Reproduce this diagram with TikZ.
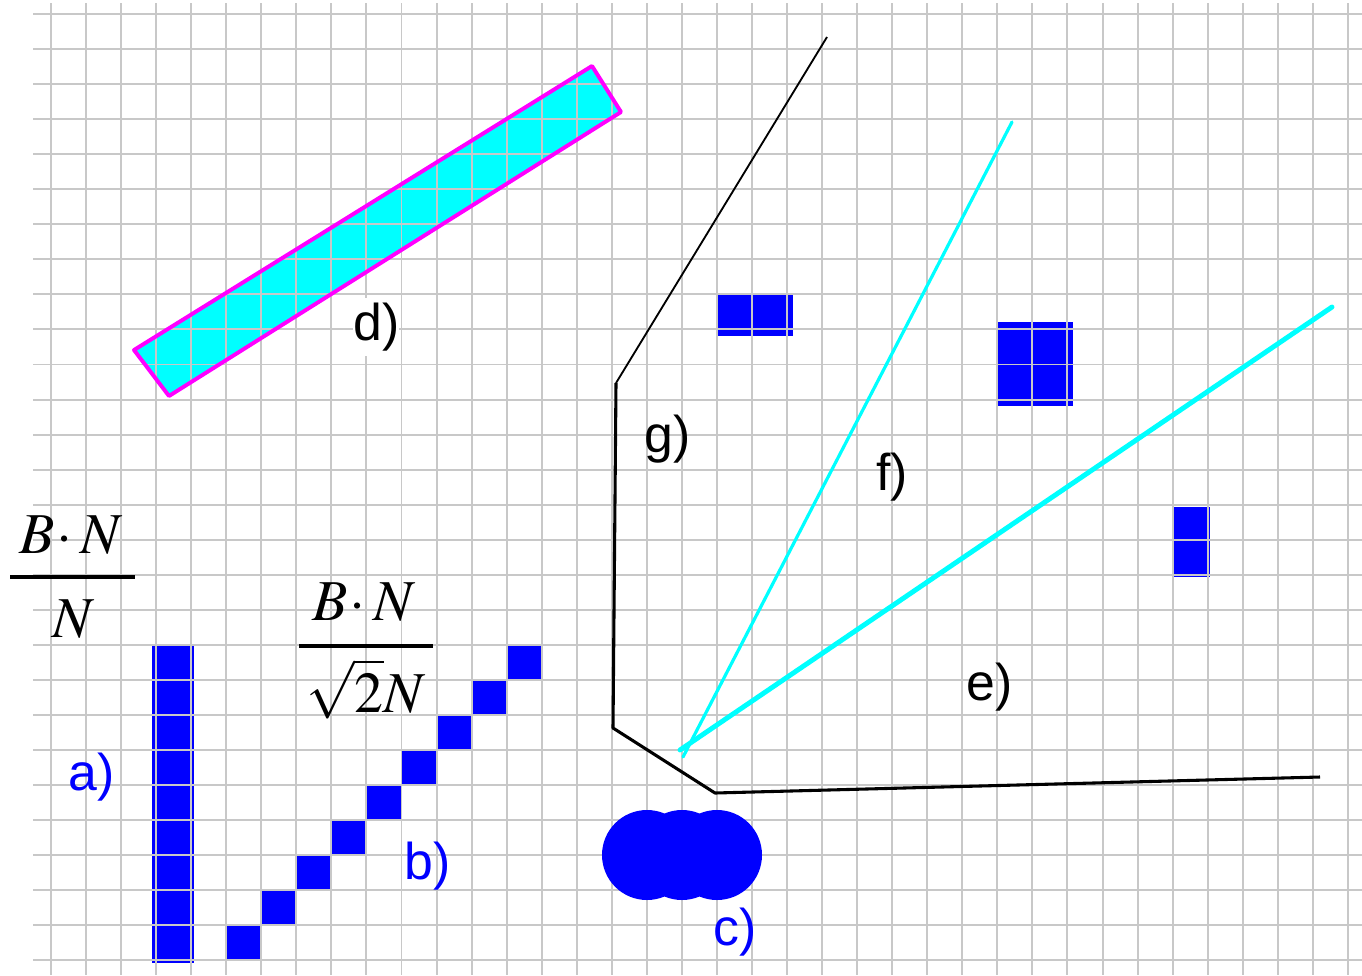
\documentclass[tikz,border=0pt]{standalone}
\usepackage{mathptmx}
\usepackage{fontspec}
\newfontfamily\lblfont{Liberation Sans}

\definecolor{gridgray}{RGB}{200,200,200}
\definecolor{pureblue}{RGB}{0,0,255}
\definecolor{aqua}{RGB}{0,255,255}
\definecolor{pink}{RGB}{255,0,255}

\begin{document}
\begin{tikzpicture}[
  x=0.02853cm, y=-0.02853cm,
  cell/.style  ={fill=pureblue},
  gridln/.style={draw=gridgray, line width=1.6pt},
  ray/.style   ={draw=aqua, line cap=round},
  wall/.style  ={draw=black, line join=round},
  lbl/.style   ={anchor=base west, inner sep=0pt, font=\lblfont\fontsize{42}{50}\selectfont},
  frac/.style  ={anchor=base, inner sep=0pt, font=\fontsize{47}{56}\selectfont},
  bar/.style   ={line width=2.6pt},
]
\useasboundingbox (0,0) rectangle (1362,975);

%% ---------------- filled shapes under the grid ----------------
\fill[cell] (152,645) rectangle (194,963);
\foreach \k in {0,...,8}{
  \fill[cell] (226.25+35.05*\k,925.3-35.05*\k) rectangle (261.3+35.05*\k,960.35-35.05*\k);
}
\fill[cell] (717,294) rectangle (793,336);
\fill[cell] (998,322) rectangle (1073,406);
\fill[cell] (1173,507) rectangle (1210,577);

\coordinate (dA) at (134,350);
\coordinate (dB) at (169,396);
\coordinate (dC) at (621,112);
\coordinate (dD) at (592,66);
\fill[aqua] (dA) -- (dB) -- (dC) -- (dD) -- cycle;

%% ---------------- grid ----------------
\foreach \i in {0,...,37}{\draw[gridln] (51+35.05*\i,3) -- (51+35.05*\i,975);}
\foreach \j in {0,...,27}{\draw[gridln] (33,14+35.05*\j) -- (1362,14+35.05*\j);}

%% ---------------- outlines and lines ----------------
\draw[pink, line width=3.2pt, line join=round] (dA) -- (dB) -- (dC) -- (dD) -- cycle;

\coordinate (gtop)  at (827,37);
\coordinate (gknee) at (616,383);
\coordinate (gfoot) at (613,728);
\coordinate (gbase) at (715,793);
\coordinate (eend)  at (1320,777);
\draw[wall, line width=1.5pt] (gtop) -- (gknee);
\draw[wall, line width=2.5pt] (gknee) -- (gfoot) -- (gbase) -- (eend);

\coordinate (apexe) at (680,750);
\coordinate (apexf) at (683,757);
\coordinate (rayf)  at (1012,122);
\coordinate (raye)  at (1332,307);
\draw[ray, line width=4pt] (apexe) -- (raye);
\draw[ray, line width=2.6pt] (apexf) -- (rayf);

\fill[cell] (647,855) circle[radius=45] (682,855) circle[radius=45] (717,855) circle[radius=45];

%% ---------------- fractions ----------------
\node[frac, text depth=0pt] (numa) at (71,553) {$B\!\cdot N$};
\draw[bar] (10,577) -- (135,577);
\node[frac] (dena) at (73.5,637) {$N$};

\node[frac, text depth=0pt] (numb) at (364,620) {$B\!\cdot N$};
\draw[bar] (299,646) -- (433,646);
\node[frac] (denb) at (366,712) {$\sqrt{2}N$};

%% ---------------- labels ----------------
\node[lbl, text=pureblue] (la) at (68,790) {a)};
\node[lbl, text=pureblue] (lb) at (404,879) {b)};
\node[lbl, text=pureblue] (lc) at (713,945) {c)};
\node[lbl, fill=white, inner ysep=4pt] (ld) at (353,340) {d)};
\node[lbl] (le) at (966,700) {e)};
\node[lbl] (lf) at (876,490) {f)};
\node[lbl] (lg) at (644,452) {g)};

\end{tikzpicture}
\end{document}
